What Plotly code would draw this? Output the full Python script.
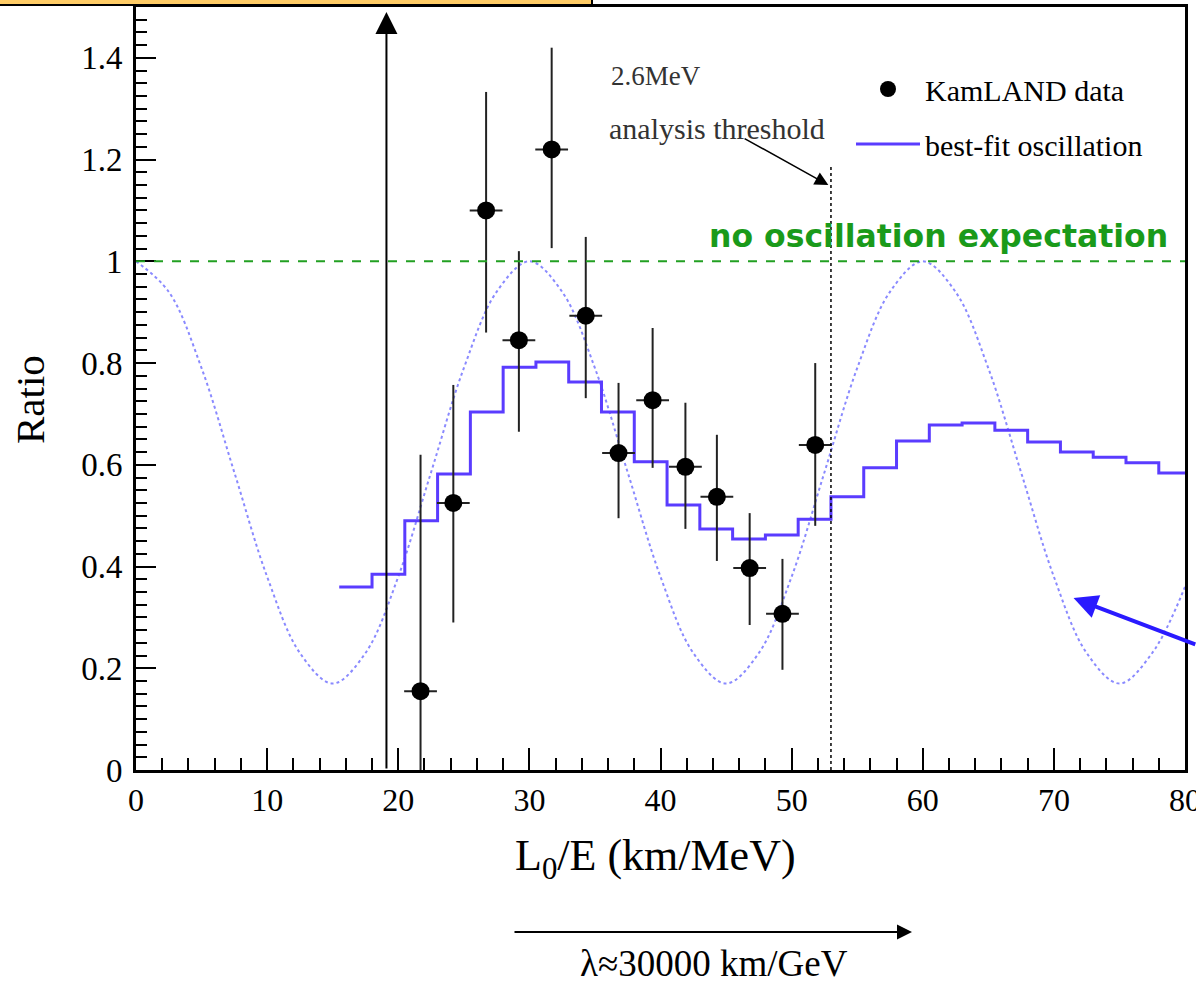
import plotly.graph_objects as go

# ---------------- data ----------------
DATA_X = [21.7, 24.2, 26.7, 29.2, 31.7, 34.3, 36.8, 39.4, 41.9, 44.3, 46.8, 49.3, 51.8]
DATA_Y = [0.155, 0.525, 1.10, 0.845, 1.22, 0.893, 0.623, 0.727, 0.596, 0.537, 0.397, 0.307, 0.639]
DATA_ERR_UP = [0.465, 0.232, 0.233, 0.175, 0.20, 0.155, 0.138, 0.142, 0.126, 0.122, 0.108, 0.108, 0.161]
DATA_ERR_DN = [0.21, 0.235, 0.24, 0.18, 0.194, 0.162, 0.128, 0.133, 0.122, 0.126, 0.112, 0.11, 0.159]
DATA_XERR = [1.25] * 13

HIST_EDGES = [15.5, 18.0, 20.5, 23.0, 25.5, 28.0, 30.5, 33.0, 35.5, 38.0, 40.5, 43.0, 45.5,
              48.0, 50.5, 53.0, 55.5, 58.0, 60.5, 63.0, 65.5, 68.0, 70.5, 73.0, 75.5, 78.0, 80.5]
HIST_VALUES = [0.36, 0.385, 0.49, 0.582, 0.704, 0.792, 0.802, 0.763, 0.704, 0.606, 0.521, 0.474,
               0.454, 0.462, 0.493, 0.537, 0.594, 0.647, 0.678, 0.682, 0.668, 0.645, 0.625,
               0.615, 0.604, 0.584]

OSC_X = [0, 2.5, 5, 7.5, 10, 12.5, 15, 17.5, 20, 22.5, 25, 27.5, 30, 32.5, 35, 37.5, 40,
         42.5, 45, 47.5, 50, 52.5, 55, 57.5, 60, 62.5, 65, 67.5, 70, 72.5, 75, 77.5, 80]
OSC_Y = [1.00, 0.94, 0.79, 0.585, 0.38, 0.23, 0.17, 0.23, 0.38, 0.585, 0.79, 0.94, 1.00,
         0.94, 0.79, 0.585, 0.38, 0.23, 0.17, 0.23, 0.38, 0.585, 0.79, 0.94, 1.00, 0.94,
         0.79, 0.585, 0.38, 0.23, 0.17, 0.23, 0.36]

NO_OSC = 1.0
THRESHOLD_X = 53.0
THRESHOLD_TOP = 1.19
BIG_ARROW_X = 19.1

Y_TICKS = [0, 0.2, 0.4, 0.6, 0.8, 1.0, 1.2, 1.4]
Y_TICK_TEXT = ["0", "0.2", "0.4", "0.6", "0.8", "1", "1.2", "1.4"]
X_TICKS = [0, 10, 20, 30, 40, 50, 60, 70, 80]

SERIF = "Liberation Serif"
HIST_COLOR = "#5a3cff"

# plot-area geometry in pixels (for paper-coordinate helpers)
L, R, T, B = 136, 1185, 7, 770
W, H = R - L, B - T


def px(xp):
    return (xp - L) / W


def py(yp):
    return (B - yp) / H


def label(xp, yp, text, size, family=SERIF, color="black", angle=0):
    fig.add_annotation(x=px(xp), y=py(yp), xref="paper", yref="paper", text=text, showarrow=False,
                       xanchor="center", yanchor="middle", textangle=angle,
                       font=dict(family=family, size=size, color=color))


fig = go.Figure()

# oscillation curve (dotted)
fig.add_trace(go.Scatter(x=OSC_X, y=OSC_Y, mode="lines",
                         line=dict(color="#8a8aff", width=2, dash="dot", shape="spline"),
                         showlegend=False, hoverinfo="skip"))

# best-fit histogram
fig.add_trace(go.Scatter(x=HIST_EDGES, y=HIST_VALUES + [HIST_VALUES[-1]], mode="lines",
                         line=dict(color=HIST_COLOR, width=3, shape="hv"),
                         name="best-fit oscillation", legendgroup="b", legendrank=2))

# data points
fig.add_trace(go.Scatter(x=DATA_X, y=DATA_Y, mode="markers",
                         marker=dict(color="black", size=18),
                         error_y=dict(type="data", symmetric=False, array=DATA_ERR_UP, arrayminus=DATA_ERR_DN,
                                      color="#222222", thickness=2, width=0),
                         error_x=dict(type="data", array=DATA_XERR, color="#222222", thickness=2, width=0),
                         name="KamLAND data", legendgroup="a", legendrank=1))

# no oscillation expectation line
fig.add_hline(y=NO_OSC, line=dict(color="#22a022", width=2, dash="dash"))

# threshold dotted line
fig.add_shape(type="line", x0=THRESHOLD_X, x1=THRESHOLD_X, y0=0, y1=THRESHOLD_TOP, xref="x", yref="y",
              line=dict(color="black", width=1.5, dash="dot"))

# big vertical arrow
fig.add_annotation(x=BIG_ARROW_X, y=1.49, ax=BIG_ARROW_X, ay=0, xref="x", yref="y", axref="x", ayref="y",
                   showarrow=True, arrowhead=2, arrowsize=2.2, arrowwidth=2, arrowcolor="black", text="")

# threshold arrow
fig.add_annotation(x=52.8, y=1.15, ax=46.3, ay=1.243, xref="x", yref="y", axref="x", ayref="y",
                   showarrow=True, arrowhead=2, arrowsize=1.8, arrowwidth=1.5, arrowcolor="black", text="")

# blue arrow on right
fig.add_annotation(x=71.5, y=0.338, ax=80.9, ay=0.246, xref="x", yref="y", axref="x", ayref="y",
                   showarrow=True, arrowhead=2, arrowsize=1.2, arrowwidth=4, arrowcolor="#2a1aff", text="")

# texts
label(656, 76, "2.6MeV", 27, color="#333333")
label(717, 128, "analysis threshold", 30, color="#333333")
label(938, 236, "<b>no oscillation expectation</b>", 31.5, family="DejaVu Sans", color="#1a9a1a")

# axis titles
label(655, 858, "L<sub>0</sub>/E (km/MeV)", 44)
label(30, 400, "Ratio", 41, angle=-90)

# bottom arrow and lambda text
fig.add_annotation(x=px(912), y=py(932), ax=-(912 - 513), ay=0,
                   xref="paper", yref="paper", axref="pixel", ayref="pixel",
                   showarrow=True, arrowhead=2, arrowsize=1.5, arrowwidth=2, arrowcolor="black", text="")
label(714, 963, "λ≈30000 km/GeV", 37)

# orange box at top
fig.add_shape(type="rect", xref="paper", yref="paper", x0=px(-10), x1=px(592),
              y0=py(5), y1=py(-6), fillcolor="#ffcc66", line=dict(color="black", width=2),
              layer="above")

fig.update_xaxes(range=[0, 80], tickvals=X_TICKS, ticks="inside", ticklen=22, tickwidth=2, tickcolor="black",
                 minor=dict(dtick=2, ticks="inside", ticklen=12, tickwidth=2, tickcolor="black"),
                 showline=True, linewidth=3, linecolor="black", mirror=True, showgrid=False, zeroline=False,
                 tickfont=dict(family=SERIF, size=32, color="black"), ticklabeloverflow="allow",
                 automargin=False)
fig.update_yaxes(range=[0, 1.5], tickvals=Y_TICKS, ticktext=Y_TICK_TEXT, ticks="inside", ticklen=20, tickwidth=2,
                 tickcolor="black",
                 minor=dict(dtick=0.025, ticks="inside", ticklen=11, tickwidth=2, tickcolor="black"),
                 showline=True, linewidth=3, linecolor="black", mirror=True, showgrid=False, zeroline=False,
                 tickfont=dict(family=SERIF, size=33, color="black"), ticklabeloverflow="allow",
                 ticklabelstandoff=4, automargin=False)

fig.update_layout(width=1196, height=983, margin=dict(l=L, r=1196 - R, t=T, b=983 - B),
                  plot_bgcolor="white", paper_bgcolor="white",
                  legend=dict(x=px(851), y=py(63), xanchor="left", yanchor="top",
                              font=dict(family=SERIF, size=30, color="black"), bgcolor="rgba(0,0,0,0)",
                              traceorder="grouped", tracegroupgap=13, itemwidth=64))

fig.write_html("out.html", config={"displayModeBar": False},
               post_script="document.body.style.margin='0px';")
